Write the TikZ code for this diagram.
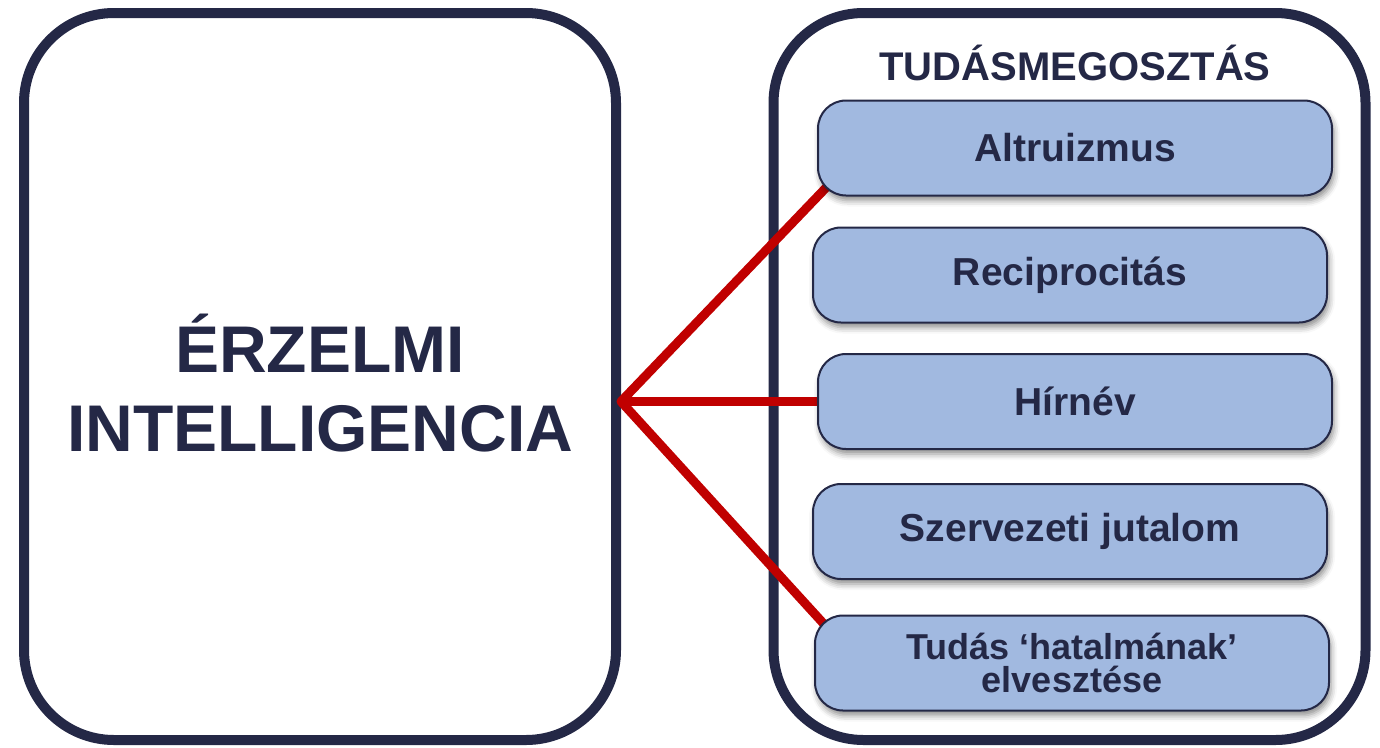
\documentclass[tikz,border=0pt]{standalone}
\usepackage{fontspec}
\setmainfont{Liberation Sans}
\usetikzlibrary{positioning,calc,backgrounds,shadows.blur}
\definecolor{navy}{HTML}{242846}
\definecolor{itemblue}{HTML}{A1B9E0}
\definecolor{linkred}{HTML}{C00000}
\tikzset{
  bigbox/.style={draw=navy,line width=10pt,rounded corners=90pt,
    minimum width=592pt,minimum height=727pt},
  item/.style={draw=navy,line width=2pt,fill=itemblue,rounded corners=28pt,
    minimum width=514pt,minimum height=95pt,text=navy,align=center,
    font=\fontsize{39}{41}\selectfont\bfseries,
    blur shadow={shadow xshift=2pt,shadow yshift=-5pt,
      shadow blur radius=6pt,shadow opacity=45}},
  link/.style={draw=linkred,line width=9pt}
}

\begin{document}
\begin{tikzpicture}[x=1pt,y=-1pt]
    \useasboundingbox (0,0) rectangle (1380,747);
    \node[text=navy,align=center,font=\fontsize{66}{79}\selectfont\bfseries] (erzt) at (320,383) {ÉRZELMI\\INTELLIGENCIA};
    \node[text=navy,anchor=base,font=\fontsize{40}{44}\selectfont\bfseries] (tmt) at (1075,80) {TUDÁSMEGOSZTÁS};

    \node[item] (alt) at (1075,148)   {Altruizmus};
    \node[item] (rec) at (1070,275)   {Reciprocitás};
    \node[item] (hir) at (1075,401.5) {Hírnév};
    \node[item] (szj) at (1070,531.5) {Szervezeti jutalom};
    \node[item,font=\fontsize{36}{33}\selectfont\bfseries] (tud) at (1072,663) {Tudás ‘hatalmának’\\elvesztése};

    % frames and links behind the items
    \begin{scope}[on background layer]
        \node[bigbox] (erz) at (320,376.5) {};
        \node[bigbox] (tm) at (1069.5,376.5) {};
        \coordinate (hub) at (erz.east |- hir.west);
        \draw[link,line join=round] ($(alt.south west)+(14,-14)$) -- (hub) -- ($(tud.north west)+(14,14)$);
        \draw[link] (hub) -- (hir.west);
    \end{scope}
\end{tikzpicture}
\end{document}
